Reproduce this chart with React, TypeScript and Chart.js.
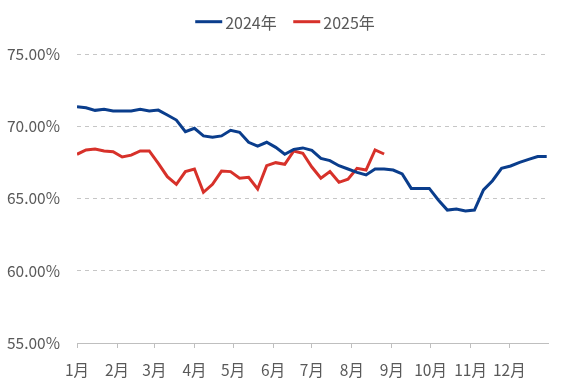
import { useEffect, useRef } from "react";
import { Chart, registerables } from "chart.js";

Chart.register(...registerables);

const monthLabels = ["1月", "2月", "3月", "4月", "5月", "6月", "7月", "8月", "9月", "10月", "11月", "12月"];
const monthStartDays = [0, 31, 60, 91, 121, 152, 182, 213, 244, 274, 305, 335];
const yTicks = [55, 60, 65, 70, 75];

const series2024 = [
  71.35, 71.28, 71.1, 71.17, 71.06, 71.06, 71.06, 71.17, 71.06, 71.12,
  70.78, 70.43, 69.62, 69.86, 69.33, 69.24, 69.33, 69.72, 69.58, 68.89,
  68.63, 68.89, 68.54, 68.06, 68.4, 68.5, 68.33, 67.78, 67.62, 67.27,
  67.04, 66.81, 66.63, 67.04, 67.04, 66.97, 66.7, 65.7, 65.7, 65.7,
  64.9, 64.2, 64.27, 64.13, 64.2, 65.59, 66.23, 67.09, 67.25, 67.5,
  67.71, 67.9, 67.9,
];

const series2025 = [
  68.06, 68.36, 68.43, 68.29, 68.24, 67.87, 68.0, 68.29, 68.29, 67.43,
  66.51, 65.98, 66.86, 67.04, 65.43, 65.98, 66.9, 66.86, 66.4, 66.47,
  65.66, 67.27, 67.48, 67.37, 68.29, 68.13, 67.18, 66.4, 66.86, 66.12,
  66.33, 67.09, 66.97, 68.36, 68.08,
];

const weekDay = (i: number) => i * 7;

const FONT = "'Noto Sans CJK SC', 'Noto Sans', sans-serif";
const TEXT = "#595959";
const BLUE = "#0a3d8c";
const RED = "#d7312a";

const lineLegend = {
  id: "lineLegend",
  afterDraw(chart: any) {
    const ctx = chart.ctx;
    const lineW = 27;
    const gapText = 3;
    const gapItems = 16.5;
    const y = 21.7;
    const centerX = 285;
    ctx.save();
    ctx.font = `16px ${FONT}`;
    const items = chart.data.datasets.map((ds: any) => ({
      label: ds.label,
      color: ds.borderColor,
      w: lineW + gapText + ctx.measureText(ds.label).width,
    }));
    const total = items.reduce((s: number, it: any) => s + it.w, 0) + gapItems * (items.length - 1);
    let x = centerX - total / 2;
    ctx.textBaseline = "middle";
    ctx.textAlign = "left";
    items.forEach((it: any) => {
      ctx.strokeStyle = it.color;
      ctx.lineWidth = 3;
      ctx.beginPath();
      ctx.moveTo(x, y);
      ctx.lineTo(x + lineW, y);
      ctx.stroke();
      ctx.fillStyle = TEXT;
      ctx.fillText(it.label, x + lineW + gapText, y + 1);
      x += it.w + gapItems;
    });
    ctx.restore();
  },
};

export default function App() {
  const ref = useRef<HTMLCanvasElement | null>(null);

  useEffect(() => {
    document.body.style.margin = "0";
    if (!ref.current) return;
    const chart = new Chart(ref.current, {
      type: "line",
      data: {
        datasets: [
          {
            label: "2024年",
            data: series2024.map((v, i) => ({ x: weekDay(i), y: v })),
            borderColor: BLUE,
            backgroundColor: BLUE,
            borderWidth: 3,
            pointRadius: 0,
            tension: 0,
          },
          {
            label: "2025年",
            data: series2025.map((v, i) => ({ x: weekDay(i), y: v })),
            borderColor: RED,
            backgroundColor: RED,
            borderWidth: 3,
            pointRadius: 0,
            tension: 0,
          },
        ],
      },
      options: {
        animation: false,
        responsive: false,
        maintainAspectRatio: false,
        layout: { padding: { left: 0, right: 20, top: 54, bottom: 0 } },
        plugins: {
          legend: { display: false },
          tooltip: { enabled: false },
        },
        scales: {
          x: {
            type: "linear",
            min: 0,
            max: 365,
            afterBuildTicks: (scale: any) => {
              scale.ticks = monthStartDays.map((d) => ({ value: d }));
            },
            afterFit: (scale: any) => {
              scale.height = 49;
            },
            ticks: {
              autoSkip: false,
              maxRotation: 0,
              padding: 13,
              color: TEXT,
              font: { family: FONT, size: 15.5 },
              callback: (value: any) => {
                const idx = monthStartDays.indexOf(Number(value));
                return idx >= 0 ? monthLabels[idx] : "";
              },
            },
            grid: {
              drawOnChartArea: false,
              drawTicks: true,
              tickLength: 5,
              color: "#bfbfbf",
            },
            border: { display: true, color: "#bfbfbf", width: 1 },
          },
          y: {
            min: 55,
            max: 75,
            afterBuildTicks: (scale: any) => {
              scale.ticks = yTicks.map((v) => ({ value: v }));
            },
            afterFit: (scale: any) => {
              scale.width = 77;
            },
            ticks: {
              padding: 17,
              color: TEXT,
              font: { family: FONT, size: 15.5 },
              callback: (value: any) => Number(value).toFixed(2) + "%",
            },
            grid: {
              drawTicks: false,
              color: "#c6c6c6",
              lineWidth: 1,
            },
            border: { display: false, dash: [4, 4] },
          },
        },
      },
      plugins: [lineLegend],
    });
    return () => chart.destroy();
  }, []);

  return (
    <div style={{ width: 568, height: 392 }}>
      <canvas ref={ref} width={568} height={392} style={{ width: 568, height: 392, display: "block" }} />
    </div>
  );
}
